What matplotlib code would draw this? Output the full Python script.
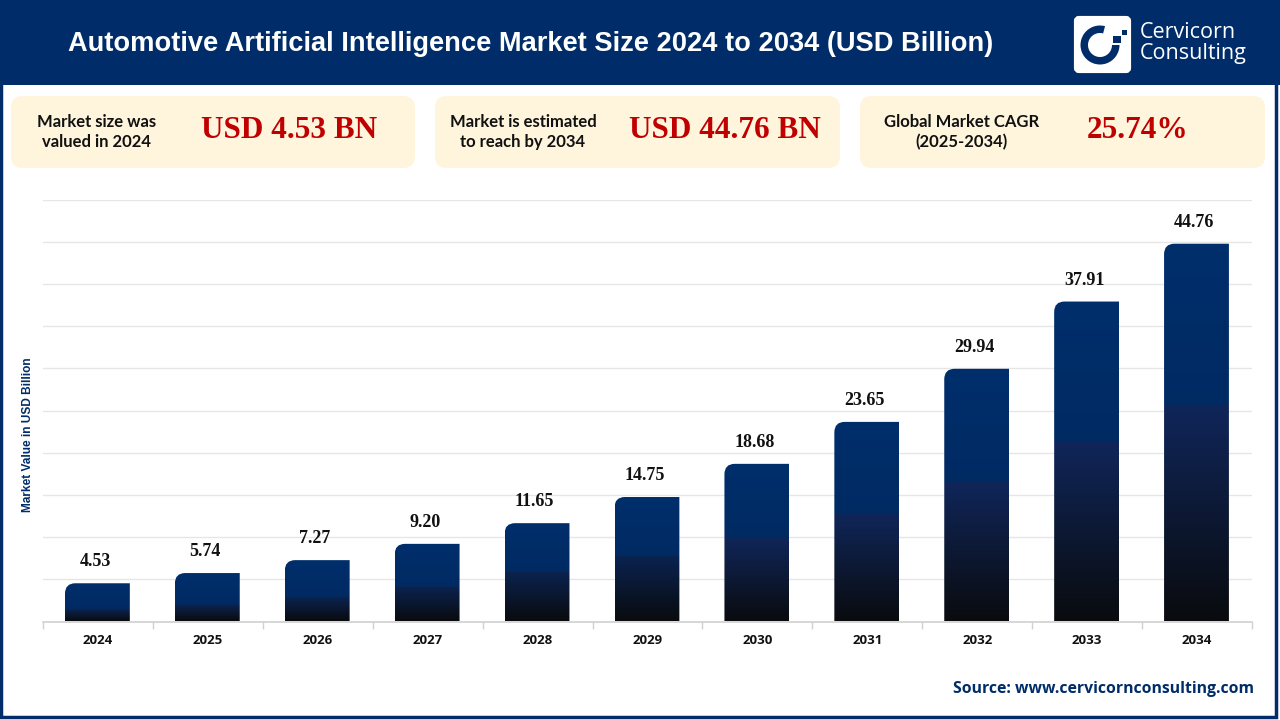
import matplotlib
matplotlib.use("Agg")
import matplotlib.pyplot as plt
import numpy as np
from matplotlib.colors import LinearSegmentedColormap
from matplotlib.patches import FancyBboxPatch, Rectangle, Wedge, PathPatch
from matplotlib.path import Path

### DATA
years = ["2024", "2025", "2026", "2027", "2028", "2029", "2030", "2031", "2032", "2033", "2034"]
values = [4.53, 5.74, 7.27, 9.20, 11.65, 14.75, 18.68, 23.65, 29.94, 37.91, 44.76]
value_labels = ["4.53", "5.74", "7.27", "9.20", "11.65", "14.75", "18.68", "23.65", "29.94", "37.91", "44.76"]
# share of each bar (from the bottom) where the dark part starts
dark_share = [0.30, 0.33, 0.38, 0.44, 0.50, 0.52, 0.53, 0.54, 0.55, 0.56, 0.57]

title = "Automotive Artificial Intelligence Market Size 2024 to 2034 (USD Billion)"
card_left = ["Market size was\nvalued in 2024", "Market is estimated\nto reach by 2034", "Global Market CAGR\n(2025-2034)"]
card_big = ["USD 4.53 BN", "USD 44.76 BN", "25.74%"]

NAVY = "#002D69"
W, H = 1280, 720

fig = plt.figure(figsize=(W / 100, H / 100), dpi=100, facecolor="white")

# Overlay in pixel coordinates for header, cards and logo
bg = fig.add_axes([0, 0, 1, 1], zorder=0)
bg.set_xlim(0, W)
bg.set_ylim(H, 0)
bg.axis("off")

bg.add_patch(Rectangle((0, 0), W, 84.5, fc=NAVY, ec="none"))
bg.add_patch(Rectangle((0.5, 0.5), 1275, 716, fc="none", ec=NAVY, lw=2.5))
bg.text(531, 44, title, color="white", fontsize=19.6, fontweight="bold", family="Liberation Sans", ha="center", va="center")

# Logo
bg.add_patch(FancyBboxPatch((1076, 18), 53, 53, boxstyle="round,pad=0,rounding_size=3", fc="white", ec="white", lw=3))
bg.add_patch(Wedge((1100, 45), 19.5, 0, 285, width=7.5, fc=NAVY, ec="none", transform=bg.transData))
bg.add_patch(Rectangle((1113, 36), 8, 7, fc=NAVY, ec="none"))
bg.add_patch(Rectangle((1122, 30), 5, 5, fc=NAVY, ec="none"))
bg.text(1140, 32, "Cervicorn", color="white", fontsize=15.5, family="Open Sans", ha="left", va="center")
bg.text(1140, 54, "Consulting", color="white", fontsize=15.5, family="Open Sans", ha="left", va="center")

# Cards
card_x = [11, 435, 860]
card_w = [404, 405, 405]
left_cx = [97, 523, 962]
big_cx = [289, 725, 1138]
for i in range(3):
    bg.add_patch(FancyBboxPatch((card_x[i], 96), card_w[i], 72, boxstyle="round,pad=0,rounding_size=12", fc="#FFF4DC", ec="none"))
    bg.text(left_cx[i], 132, card_left[i], color="#111111", fontsize=12, fontweight="bold", family="Lato", ha="center", va="center", linespacing=1.25)
    bg.text(big_cx[i], 131, card_big[i], color="#C00000", fontsize=22.5, fontweight="bold", family="Liberation Serif", ha="center", va="center")

bg.text(28, 435, "Market Value in USD Billion", color=NAVY, fontsize=8.6, fontweight="bold", family="Liberation Sans", rotation=90, ha="center", va="center")
bg.text(1254, 689, "Source: www.cervicornconsulting.com", color=NAVY, fontsize=11.3, fontweight="bold", family="Open Sans", ha="right", va="center")

# Main chart
ax = fig.add_axes([43 / W, (H - 621.5) / H, 1209 / W, 422 / H], zorder=1)
ax.patch.set_alpha(0)
ax.set_xlim(-0.5, 10.5)
ax.set_ylim(0, 50)
ax.set_yticks(np.arange(0, 55, 5))
ax.tick_params(axis="y", length=0, labelleft=False)
ax.grid(axis="y", color="#E6E6E6", lw=1)
ax.set_axisbelow(True)
for s in ["top", "left", "right"]:
    ax.spines[s].set_visible(False)
ax.spines["bottom"].set_color("#D0D0D0")
ax.spines["bottom"].set_linewidth(1.2)

ax.set_xticks(np.arange(-0.5, 11, 1))
ax.set_xticklabels([])
ax.tick_params(axis="x", length=5, color="#D0D0D0", width=1)
ax.set_xticks(range(11), years, minor=True, fontsize=9.5, fontweight="bold", family="Open Sans", color="#111111")
ax.tick_params(axis="x", which="minor", length=0, pad=9)

bar_w = 0.59
shift = -0.005
rx = bar_w * 0.16   # corner radius of about 10 px
ry = 50 * 10.5 / 422
for i, v in enumerate(values):
    x0 = i - bar_w / 2 + shift
    x1 = i + bar_w / 2 + shift
    d = dark_share[i]
    cmap = LinearSegmentedColormap.from_list("bar", [
        (0, "#090B0E"),
        (d, "#10265A" if v > 15 else "#0B2350"),
        (min(d + 0.001, 1), "#002A62"),
        (1, "#002F6C"),
    ])
    grad = np.linspace(1, 0, 256).reshape(-1, 1)
    im = ax.imshow(grad, cmap=cmap, vmin=0, vmax=1, extent=[x0, x1, 0, v], aspect="auto", zorder=2, interpolation="bilinear")
    r = min(ry, v)
    verts = [(x0, 0), (x0, v - r), (x0, v), (x0 + rx, v), (x1, v), (x1, 0), (x0, 0)]
    codes = [Path.MOVETO, Path.LINETO, Path.CURVE3, Path.CURVE3, Path.LINETO, Path.LINETO, Path.CLOSEPOLY]
    clip = PathPatch(Path(verts, codes), transform=ax.transData, fc="none", ec="none")
    ax.add_patch(clip)
    im.set_clip_path(clip)
    ax.annotate(value_labels[i], (i, v), xytext=(-3, 13), textcoords="offset pixels", ha="center", va="bottom",
                fontsize=13, fontweight="bold", family="Liberation Serif", color="#111111")
ax.set_xlim(-0.5, 10.5)
ax.set_ylim(0, 50)

fig.savefig("out.png", dpi=100)
